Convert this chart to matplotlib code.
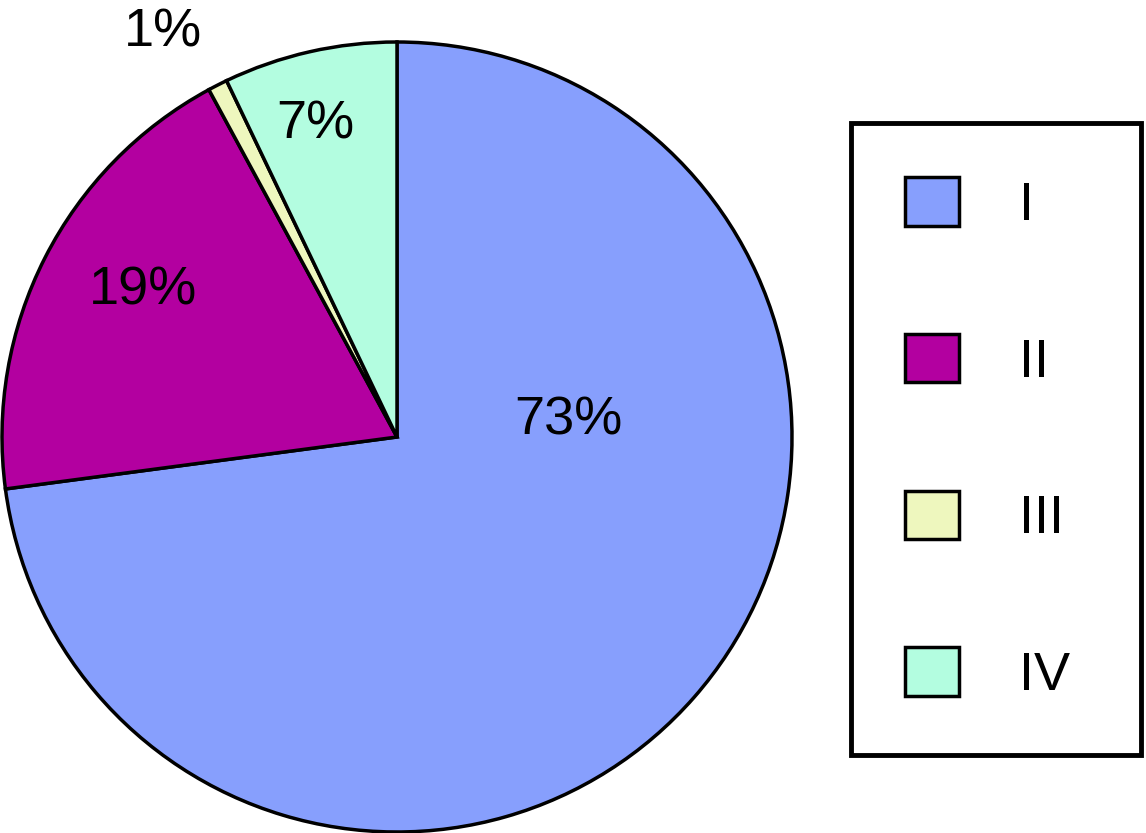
import matplotlib.pyplot as plt
from matplotlib.patches import Patch

plt.rcParams['font.family'] = ['Liberation Sans', 'DejaVu Sans']

# data
labels = ["I", "II", "III", "IV"]
values = [72.9, 19.2, 0.8, 7.1]
colors = ["#879ffd", "#b300a0", "#eef7be", "#b3fde0"]

# where the percent labels sit (pie units, radius 1)
pct_pos = [(0.433, 0.043), (-0.643, 0.372), (-0.592, 1.023), (-0.208, 0.790)]

fig = plt.figure(figsize=(11.46, 8.33), dpi=100)
ax = fig.add_axes([2/1146, 1-(437+395)/833, 790/1146, 790/833])

wedges, texts, autotexts = ax.pie(values, colors=colors, startangle=90, counterclock=False,
                                  autopct="%.0f%%",
                                  wedgeprops=dict(edgecolor="black", linewidth=2.5),
                                  textprops=dict(fontsize=39, color="black"))
for t, p in zip(autotexts, pct_pos):
    t.set_position(p)
ax.set_xlim(-1, 1)
ax.set_ylim(-1, 1)
ax.set_aspect("equal")

handles = [Patch(facecolor=c, edgecolor="black", linewidth=2.5) for c in colors]
leg = fig.legend(handles, labels, loc="upper left",
                 bbox_to_anchor=(851/1146, 1-123/833-0.01, 290/1146, 0.01),
                 mode="expand", fontsize=39, frameon=True, fancybox=False,
                 framealpha=1, edgecolor="black", handlelength=1.0, handleheight=1.0,
                 handletextpad=1.1, labelspacing=1.9, borderpad=1.0,
                 borderaxespad=0)
leg.get_frame().set_linewidth(3.5)

fig.savefig("out.png", dpi=100)
